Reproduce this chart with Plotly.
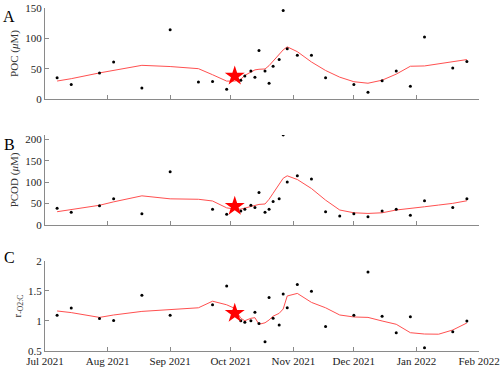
import plotly.graph_objects as go

# weekly sampling dates (Nov 24 only has PCOD)
dates = ["2021-07-07", "2021-07-14", "2021-07-28", "2021-08-04", "2021-08-18",
         "2021-09-01", "2021-09-15", "2021-09-22", "2021-09-29", "2021-10-06",
         "2021-10-08", "2021-10-11", "2021-10-13", "2021-10-15", "2021-10-18",
         "2021-10-20", "2021-10-22", "2021-10-25", "2021-10-27", "2021-10-29",
         "2021-11-03", "2021-11-10", "2021-11-17", "2021-11-24", "2021-12-01",
         "2021-12-08", "2021-12-15", "2021-12-22", "2021-12-29", "2022-01-05",
         "2022-01-19", "2022-01-26"]

poc = [35, 24, 43, 61, 18, 114, 28, 29, 16, 31, 38, 46, 36, 80, 46, 26, 54, 65,
       146, 83, 72, 72, 35, None, 24, 11, 30, 46, 21, 102, 51, 62]
pcod = [39, 30, 45, 61, 26, 124, None, 36.5, 25, 32.5, 37, 46, 41, 76, 29.5, 37,
        55, 61, 210, 100, 115, 107, 31, 21, 26, 19, 32.5, 36.5, 22.5, 56.5, 41, 61]
rq = [1.095, 1.217, 1.04, 1.01, 1.43, 1.095, None, 1.27, 1.583, 1.005, 0.978,
      1.005, 1.145, 0.96, 0.655, 1.39, 1.045, 0.933, 1.45, 1.22, 1.61, 1.495,
      0.91, None, 1.095, 1.817, 1.08, 0.805, 1.07, 0.555, 0.82, 1.0]

# smoothed trend (red line)
line_dates = ["2021-07-07", "2021-07-14", "2021-07-28", "2021-08-04", "2021-08-18",
              "2021-09-01", "2021-09-15", "2021-09-22", "2021-09-29", "2021-10-03",
              "2021-10-06", "2021-10-08", "2021-10-11", "2021-10-13", "2021-10-15",
              "2021-10-18", "2021-10-20", "2021-10-22", "2021-10-25", "2021-10-27",
              "2021-10-29", "2021-11-03", "2021-11-10", "2021-11-17", "2021-11-24",
              "2021-12-01", "2021-12-08", "2021-12-15", "2021-12-22", "2021-12-29",
              "2022-01-05", "2022-01-12", "2022-01-19", "2022-01-26"]
poc_fit = [29.6, 33.5, 43, 47, 55.5, 53.5, 50, 40, 29.5, 29.6, 32.5, 39, 44.5, 48,
           49, 49.5, 55, 62, 73, 81, 86, 78, 61, 47, 36, 28.5, 26, 31, 41, 54,
           54.5, 58, 61.5, 65]
pcod_fit = [31, 36.5, 46, 54, 68, 61, 60, 56, 40, 37, 37, 39.5, 43.5, 46.5, 48, 49,
            60, 74, 95, 109, 114.7, 106, 85, 58, 35, 28.5, 27, 28.5, 35, 39.5,
            42.5, 46.5, 50.5, 56.5]
rq_fit = [1.167, 1.14, 1.06, 1.1, 1.16, 1.19, 1.22, 1.33, 1.27, 1.21, 1.045, 1.005,
          1.045, 1.055, 0.945, 0.97, 1.017, 1.08, 1.128, 1.2, 1.417, 1.46, 1.31,
          1.22, 1.1, 1.067, 1.06, 1.0, 0.945, 0.805, 0.783, 0.78, 0.85, 0.967]

star_date = "2021-10-03"
star_vals = [38, 44, 1.128]

panels = [
    ("A", poc, poc_fit, "POC (<i>μ</i>M)", [0, 150], [0, 50, 100, 150], [0.7347, 1.0]),
    ("B", pcod, pcod_fit, "PCOD (<i>μ</i>M)", [0, 210], [0, 50, 100, 150, 200], [0.3673, 0.63]),
    ("C", rq, rq_fit, "r<sub>-O2:C</sub>", [0.5, 2], [0.5, 1, 1.5, 2], [0.0, 0.2624]),
]
letter_y = [0.975, 0.603, 0.274]

FONT = "Liberation Serif"
AX = "#8a8a8a"

fig = go.Figure()
layout = {}
for i, (lab, vals, fit, ytitle, yr, yt, dom) in enumerate(panels):
    n = "" if i == 0 else str(i + 1)
    xa, ya = "x" + n, "y" + n
    fig.add_trace(go.Scatter(x=line_dates, y=fit, mode="lines",
                             line=dict(color="rgb(255,80,80)", width=1),
                             xaxis=xa, yaxis=ya, hoverinfo="skip"))
    fig.add_trace(go.Scatter(x=dates, y=vals, mode="markers",
                             marker=dict(color="black", size=3),
                             xaxis=xa, yaxis=ya))
    fig.add_trace(go.Scatter(x=[star_date], y=[star_vals[i]], mode="markers",
                             marker=dict(color="red", size=15, symbol="star"),
                             xaxis=xa, yaxis=ya))
    layout["xaxis" + n] = dict(
        domain=[0, 1], anchor=ya, range=["2021-07-01", "2022-02-01"],
        dtick="M1", tick0="2021-07-01", tickformat="%b %Y",
        showticklabels=(i == 2), ticks="inside", ticklen=4, tickcolor=AX,
        showline=True, linecolor=AX, linewidth=1, showgrid=False, zeroline=False,
        automargin=False,
        tickfont=dict(family=FONT, size=11, color="#222"),
    )
    layout["yaxis" + n] = dict(
        domain=dom, anchor=xa, range=yr, tickvals=yt,
        ticks="inside", ticklen=4, tickcolor=AX, showline=True, linecolor=AX,
        linewidth=1, showgrid=False, zeroline=False, automargin=False,
        tickfont=dict(family=FONT, size=11, color="#222"),
        title=dict(text=ytitle, font=dict(family=FONT, size=11, color="#333"), standoff=4),
    )
    fig.add_annotation(text=lab, xref="paper", yref="paper",
                       x=-0.082, y=letter_y[i], xanchor="center", yanchor="middle",
                       showarrow=False,
                       font=dict(family=FONT, size=16, color="black"))

fig.update_layout(
    **layout,
    width=503, height=371,
    margin=dict(l=45, r=24, t=8, b=20),
    plot_bgcolor="white", paper_bgcolor="white",
    showlegend=False,
    font=dict(family=FONT),
)

# page body has a default 8px margin; remove it so the figure sits at 0,0
fig.write_html("out.html", config={"displayModeBar": False},
               post_script="document.body.style.margin='0';")
